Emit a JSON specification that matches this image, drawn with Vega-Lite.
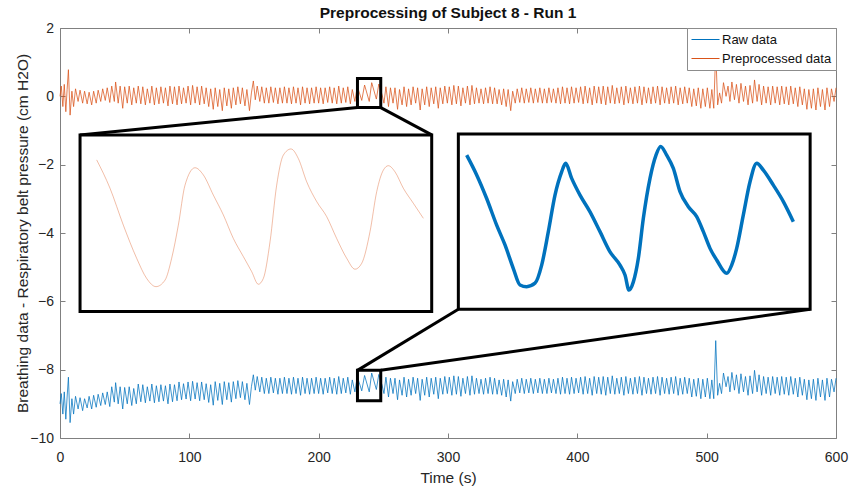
{
"$schema":"https://vega.github.io/schema/vega-lite/v6.json",
"width":776,"height":410,
"autosize":{"type":"none"},
"padding":{"left":60,"top":28,"right":15,"bottom":49},
"background":"white",
"title":{"text":"Preprocessing of Subject 8 - Run 1","fontSize":15.5,"fontWeight":"bold","font":"Liberation Sans","color":"#111111","anchor":"middle","offset":-12.5,"baseline":"alphabetic"},
"config":{"view":{"stroke":null},"font":"Liberation Sans",
"axis":{"grid":false,"labelFont":"Liberation Sans","titleFont":"Liberation Sans","domainColor":"#808080","tickColor":"#808080","labelColor":"#262626","titleColor":"#262626","tickSize":-5,"labelFlush":false,"labelOverlap":false,"labelFontSize":14,"titleFontSize":15.5,"titleFontWeight":"normal"}},
"datasets":{
"sig":[
{"t":0,"p":0,"r":-9},{"t":1,"p":0.3,"r":-8.7},{"t":2.2,"p":-0.3,"r":-9.3},{"t":3.3,"p":0.35,"r":-8.65},{"t":4.5,"p":-0.45,"r":-9.45},{"t":5.5,"p":0.2,"r":-8.8},{"t":6.5,"p":0.78,"r":-8.22},{"t":7.8,"p":-0.55,"r":-9.55},{"t":9.2,"p":0.15,"r":-8.85},{"t":10.5,"p":-0.3,"r":-9.3},
{"t":12,"p":0.22,"r":-8.78},{"t":14,"p":-0.15,"r":-9.15},{"t":15.5,"p":0.18,"r":-8.82},{"t":17.5,"p":-0.2,"r":-9.2},{"t":19,"p":0.15,"r":-8.85},{"t":21,"p":-0.22,"r":-9.12},{"t":22.5,"p":0.12,"r":-8.78},{"t":24.5,"p":-0.25,"r":-9.15},{"t":26,"p":0.15,"r":-8.75},{"t":28,"p":-0.2,"r":-9.1},
{"t":29.5,"p":0.18,"r":-8.72},{"t":31.5,"p":-0.15,"r":-9.05},{"t":33,"p":0.22,"r":-8.68},{"t":35,"p":-0.12,"r":-9.02},{"t":36.5,"p":0.25,"r":-8.65},{"t":38.5,"p":-0.18,"r":-9.08},{"t":40,"p":0.3,"r":-8.5},{"t":42,"p":-0.15,"r":-8.95},{"t":43,"p":0.42,"r":-8.38},{"t":45,"p":-0.2,"r":-9},
{"t":46.5,"p":0.3,"r":-8.5},{"t":48.5,"p":-0.35,"r":-9.15},{"t":50,"p":0.28,"r":-8.52},{"t":52,"p":-0.2,"r":-9},{"t":53.5,"p":0.3,"r":-8.5},{"t":55.5,"p":-0.25,"r":-9.05},{"t":57,"p":0.25,"r":-8.55},{"t":59,"p":-0.2,"r":-9},{"t":60.5,"p":0.3,"r":-8.42},{"t":62.5,"p":-0.22,"r":-8.94},
{"t":64,"p":0.28,"r":-8.44},{"t":66,"p":-0.25,"r":-8.97},{"t":67.5,"p":0.22,"r":-8.5},{"t":69.5,"p":-0.2,"r":-8.92},{"t":71,"p":0.3,"r":-8.42},{"t":73,"p":-0.25,"r":-8.97},{"t":74.5,"p":0.25,"r":-8.47},{"t":76.5,"p":-0.22,"r":-8.94},{"t":78,"p":0.28,"r":-8.44},{"t":80,"p":-0.2,"r":-8.92},
{"t":81.5,"p":0.25,"r":-8.47},{"t":83.5,"p":-0.28,"r":-9},{"t":85,"p":0.3,"r":-8.42},{"t":87,"p":-0.22,"r":-8.94},{"t":88.5,"p":0.28,"r":-8.44},{"t":90.5,"p":-0.25,"r":-8.91},{"t":92,"p":0.3,"r":-8.36},{"t":94,"p":-0.22,"r":-8.88},{"t":95.5,"p":0.25,"r":-8.41},{"t":97.5,"p":-0.2,"r":-8.86},
{"t":99,"p":0.3,"r":-8.36},{"t":101,"p":-0.25,"r":-8.91},{"t":102.5,"p":0.32,"r":-8.34},{"t":104.5,"p":-0.2,"r":-8.86},{"t":106,"p":0.28,"r":-8.38},{"t":108,"p":-0.25,"r":-8.91},{"t":109.5,"p":0.3,"r":-8.36},{"t":111.5,"p":-0.22,"r":-8.88},{"t":113,"p":0.25,"r":-8.41},{"t":115,"p":-0.3,"r":-8.96},
{"t":116.5,"p":0.22,"r":-8.44},{"t":118.5,"p":-0.38,"r":-9.04},{"t":120,"p":0.25,"r":-8.35},{"t":122,"p":-0.3,"r":-8.9},{"t":123.5,"p":0.2,"r":-8.4},{"t":125.5,"p":-0.42,"r":-9.02},{"t":127,"p":0.25,"r":-8.35},{"t":129,"p":-0.28,"r":-8.88},{"t":130.5,"p":0.22,"r":-8.38},{"t":132.5,"p":-0.35,"r":-8.95},
{"t":134,"p":0.25,"r":-8.35},{"t":136,"p":-0.25,"r":-8.85},{"t":137.5,"p":0.28,"r":-8.32},{"t":139.5,"p":-0.22,"r":-8.82},{"t":141,"p":0.25,"r":-8.35},{"t":143,"p":-0.28,"r":-8.88},{"t":144.5,"p":0.2,"r":-8.4},{"t":146.5,"p":-0.42,"r":-9.02},{"t":148,"p":0.1,"r":-8.5},{"t":149.5,"p":0.45,"r":-8.15},
{"t":151,"p":-0.1,"r":-8.6},{"t":152.5,"p":0.3,"r":-8.2},{"t":154.5,"p":-0.15,"r":-8.65},{"t":156,"p":0.28,"r":-8.22},{"t":158,"p":-0.2,"r":-8.7},{"t":159.5,"p":0.25,"r":-8.25},{"t":161.5,"p":-0.2,"r":-8.7},{"t":163,"p":0.28,"r":-8.22},{"t":165,"p":-0.18,"r":-8.68},{"t":166.5,"p":0.25,"r":-8.25},
{"t":168.5,"p":-0.22,"r":-8.72},{"t":170,"p":0.25,"r":-8.25},{"t":172,"p":-0.2,"r":-8.7},{"t":173.5,"p":0.28,"r":-8.22},{"t":175.5,"p":-0.2,"r":-8.7},{"t":177,"p":0.25,"r":-8.25},{"t":179,"p":-0.22,"r":-8.72},{"t":180.5,"p":0.28,"r":-8.22},{"t":182.5,"p":-0.2,"r":-8.7},{"t":184,"p":0.25,"r":-8.25},
{"t":186,"p":-0.25,"r":-8.75},{"t":187.5,"p":0.28,"r":-8.22},{"t":189.5,"p":-0.2,"r":-8.7},{"t":191,"p":0.25,"r":-8.25},{"t":193,"p":-0.22,"r":-8.72},{"t":194.5,"p":0.25,"r":-8.25},{"t":196.5,"p":-0.2,"r":-8.7},{"t":198,"p":0.28,"r":-8.22},{"t":200,"p":-0.2,"r":-8.7},{"t":201.5,"p":0.25,"r":-8.25},
{"t":203.5,"p":-0.22,"r":-8.72},{"t":205,"p":0.25,"r":-8.25},{"t":207,"p":-0.18,"r":-8.68},{"t":208.5,"p":0.28,"r":-8.22},{"t":210.5,"p":-0.2,"r":-8.7},{"t":212,"p":0.25,"r":-8.25},{"t":214,"p":-0.22,"r":-8.72},{"t":215.5,"p":0.3,"r":-8.2},{"t":217.5,"p":-0.2,"r":-8.7},{"t":219,"p":0.25,"r":-8.25},
{"t":221,"p":-0.18,"r":-8.68},{"t":222.5,"p":0.28,"r":-8.22},{"t":224.5,"p":-0.22,"r":-8.72},{"t":226,"p":0.2,"r":-8.3},{"t":228,"p":-0.15,"r":-8.65},{"t":229.9,"p":0.3,"r":-8.2},{"t":233.3,"p":-0.12,"r":-8.62},{"t":235.5,"p":0.33,"r":-8.17},{"t":239.1,"p":-0.15,"r":-8.65},{"t":241,"p":0.4,"r":-8.1},
{"t":244.6,"p":-0.08,"r":-8.58},{"t":246.5,"p":0.36,"r":-8.14},{"t":249,"p":0.05,"r":-8.45},{"t":250.5,"p":-0.2,"r":-8.7},{"t":252,"p":0.28,"r":-8.22},{"t":254,"p":-0.3,"r":-8.8},{"t":255.5,"p":0.25,"r":-8.25},{"t":257.5,"p":-0.2,"r":-8.7},{"t":259,"p":0.25,"r":-8.25},{"t":261,"p":-0.38,"r":-8.88},
{"t":262.5,"p":0.2,"r":-8.3},{"t":264.5,"p":-0.25,"r":-8.75},{"t":266,"p":0.28,"r":-8.22},{"t":268,"p":-0.3,"r":-8.8},{"t":269.5,"p":0.22,"r":-8.28},{"t":271.5,"p":-0.25,"r":-8.75},{"t":273,"p":0.28,"r":-8.22},{"t":275,"p":-0.2,"r":-8.7},{"t":276.5,"p":0.25,"r":-8.25},{"t":278.5,"p":-0.4,"r":-8.9},
{"t":280,"p":0.22,"r":-8.28},{"t":282,"p":-0.25,"r":-8.75},{"t":283.5,"p":0.28,"r":-8.22},{"t":285.5,"p":-0.3,"r":-8.8},{"t":287,"p":0.25,"r":-8.25},{"t":289,"p":-0.22,"r":-8.72},{"t":290.5,"p":0.28,"r":-8.22},{"t":292.5,"p":-0.35,"r":-8.85},{"t":294,"p":0.25,"r":-8.25},{"t":296,"p":-0.22,"r":-8.72},
{"t":297.5,"p":0.3,"r":-8.2},{"t":299.5,"p":-0.2,"r":-8.7},{"t":301,"p":0.28,"r":-8.22},{"t":303,"p":-0.25,"r":-8.75},{"t":304.5,"p":0.32,"r":-8.18},{"t":306.5,"p":-0.22,"r":-8.72},{"t":308,"p":0.3,"r":-8.2},{"t":310,"p":-0.28,"r":-8.78},{"t":311.5,"p":0.25,"r":-8.25},{"t":313.5,"p":-0.2,"r":-8.7},
{"t":315,"p":0.3,"r":-8.2},{"t":317,"p":-0.25,"r":-8.75},{"t":318.5,"p":0.32,"r":-8.18},{"t":320.5,"p":-0.22,"r":-8.72},{"t":322,"p":0.25,"r":-8.25},{"t":324,"p":-0.2,"r":-8.7},{"t":325.5,"p":0.22,"r":-8.28},{"t":327.5,"p":-0.22,"r":-8.72},{"t":329,"p":0.25,"r":-8.25},{"t":331,"p":-0.2,"r":-8.7},
{"t":332.5,"p":0.28,"r":-8.22},{"t":334.5,"p":-0.22,"r":-8.72},{"t":336,"p":0.25,"r":-8.25},{"t":338,"p":-0.22,"r":-8.72},{"t":339.5,"p":0.2,"r":-8.3},{"t":341.5,"p":-0.25,"r":-8.75},{"t":343,"p":0.22,"r":-8.28},{"t":345,"p":-0.3,"r":-8.8},{"t":346.5,"p":0.2,"r":-8.3},{"t":348.5,"p":-0.42,"r":-8.92},
{"t":350,"p":0.15,"r":-8.35},{"t":352,"p":-0.2,"r":-8.7},{"t":353.5,"p":0.22,"r":-8.28},{"t":355.5,"p":-0.18,"r":-8.68},{"t":357,"p":0.25,"r":-8.25},{"t":359,"p":-0.2,"r":-8.7},{"t":360.5,"p":0.22,"r":-8.28},{"t":362.5,"p":-0.18,"r":-8.68},{"t":364,"p":0.25,"r":-8.25},{"t":366,"p":-0.2,"r":-8.7},
{"t":367.5,"p":0.22,"r":-8.28},{"t":369.5,"p":-0.18,"r":-8.68},{"t":371,"p":0.25,"r":-8.25},{"t":373,"p":-0.2,"r":-8.7},{"t":374.5,"p":0.22,"r":-8.28},{"t":376.5,"p":-0.2,"r":-8.7},{"t":378,"p":0.25,"r":-8.25},{"t":380,"p":-0.18,"r":-8.68},{"t":381.5,"p":0.22,"r":-8.28},{"t":383.5,"p":-0.2,"r":-8.7},
{"t":385,"p":0.25,"r":-8.25},{"t":387,"p":-0.22,"r":-8.72},{"t":388.5,"p":0.28,"r":-8.22},{"t":390.5,"p":-0.2,"r":-8.7},{"t":392,"p":0.25,"r":-8.25},{"t":394,"p":-0.22,"r":-8.72},{"t":395.5,"p":0.28,"r":-8.22},{"t":397.5,"p":-0.2,"r":-8.7},{"t":399,"p":0.25,"r":-8.25},{"t":401,"p":-0.18,"r":-8.68},
{"t":402.5,"p":0.28,"r":-8.22},{"t":404.5,"p":-0.22,"r":-8.72},{"t":406,"p":0.3,"r":-8.2},{"t":408,"p":-0.2,"r":-8.7},{"t":409.5,"p":0.25,"r":-8.25},{"t":411.5,"p":-0.25,"r":-8.75},{"t":413,"p":0.3,"r":-8.2},{"t":415,"p":-0.2,"r":-8.7},{"t":416.5,"p":0.28,"r":-8.22},{"t":418.5,"p":-0.22,"r":-8.72},
{"t":420,"p":0.3,"r":-8.2},{"t":422,"p":-0.25,"r":-8.75},{"t":423.5,"p":0.28,"r":-8.22},{"t":425.5,"p":-0.2,"r":-8.7},{"t":427,"p":0.32,"r":-8.18},{"t":429,"p":-0.22,"r":-8.72},{"t":430.5,"p":0.25,"r":-8.25},{"t":432.5,"p":-0.2,"r":-8.7},{"t":434,"p":0.28,"r":-8.22},{"t":436,"p":-0.25,"r":-8.75},
{"t":437.5,"p":0.3,"r":-8.2},{"t":439.5,"p":-0.2,"r":-8.7},{"t":441,"p":0.25,"r":-8.25},{"t":443,"p":-0.22,"r":-8.72},{"t":444.5,"p":0.28,"r":-8.22},{"t":446.5,"p":-0.2,"r":-8.7},{"t":448,"p":0.3,"r":-8.2},{"t":450,"p":-0.25,"r":-8.75},{"t":451.5,"p":0.28,"r":-8.22},{"t":453.5,"p":-0.2,"r":-8.7},
{"t":455,"p":0.25,"r":-8.25},{"t":457,"p":-0.22,"r":-8.72},{"t":458.5,"p":0.28,"r":-8.22},{"t":460.5,"p":-0.2,"r":-8.7},{"t":462,"p":0.3,"r":-8.2},{"t":464,"p":-0.25,"r":-8.75},{"t":465.5,"p":0.28,"r":-8.22},{"t":467.5,"p":-0.2,"r":-8.7},{"t":469,"p":0.25,"r":-8.25},{"t":471,"p":-0.22,"r":-8.72},
{"t":472.5,"p":0.28,"r":-8.22},{"t":474.5,"p":-0.2,"r":-8.7},{"t":476,"p":0.3,"r":-8.2},{"t":478,"p":-0.25,"r":-8.75},{"t":479.5,"p":0.25,"r":-8.25},{"t":481.5,"p":-0.22,"r":-8.72},{"t":483,"p":0.28,"r":-8.22},{"t":485,"p":-0.2,"r":-8.7},{"t":486.5,"p":0.25,"r":-8.25},{"t":488.5,"p":-0.3,"r":-8.8},
{"t":490,"p":0.22,"r":-8.28},{"t":492,"p":-0.28,"r":-8.78},{"t":493.5,"p":0.25,"r":-8.25},{"t":495.5,"p":-0.35,"r":-8.85},{"t":497,"p":0.22,"r":-8.28},{"t":499,"p":-0.3,"r":-8.8},{"t":500.5,"p":0.25,"r":-8.25},{"t":502.5,"p":-0.35,"r":-8.85},{"t":504,"p":0.2,"r":-8.3},{"t":505.5,"p":-0.35,"r":-8.85},
{"t":507,"p":1.35,"r":-7.15},{"t":508.5,"p":-0.25,"r":-8.75},{"t":510,"p":0.1,"r":-8.4},{"t":511.5,"p":-0.2,"r":-8.7},{"t":513,"p":0.4,"r":-8.1},{"t":515,"p":0,"r":-8.5},{"t":516.5,"p":0.3,"r":-8.2},{"t":518,"p":-0.15,"r":-8.65},{"t":519.5,"p":0.42,"r":-8.08},{"t":521.5,"p":-0.1,"r":-8.6},
{"t":523,"p":0.35,"r":-8.15},{"t":525,"p":-0.2,"r":-8.7},{"t":526.5,"p":0.38,"r":-8.12},{"t":528.5,"p":-0.15,"r":-8.65},{"t":530,"p":0.3,"r":-8.2},{"t":532,"p":-0.25,"r":-8.75},{"t":533.5,"p":0.32,"r":-8.18},{"t":535.5,"p":-0.2,"r":-8.7},{"t":537,"p":0.48,"r":-8.02},{"t":539,"p":-0.15,"r":-8.65},
{"t":540.5,"p":0.35,"r":-8.15},{"t":542.5,"p":-0.25,"r":-8.75},{"t":544,"p":0.3,"r":-8.2},{"t":546,"p":-0.2,"r":-8.7},{"t":547.5,"p":0.28,"r":-8.22},{"t":549.5,"p":-0.25,"r":-8.75},{"t":551,"p":0.3,"r":-8.2},{"t":553,"p":-0.2,"r":-8.7},{"t":554.5,"p":0.28,"r":-8.22},{"t":556.5,"p":-0.25,"r":-8.75},
{"t":558,"p":0.3,"r":-8.2},{"t":560,"p":-0.22,"r":-8.72},{"t":561.5,"p":0.28,"r":-8.22},{"t":563.5,"p":-0.25,"r":-8.75},{"t":565,"p":0.3,"r":-8.2},{"t":567,"p":-0.22,"r":-8.72},{"t":568.5,"p":0.25,"r":-8.25},{"t":570.5,"p":-0.3,"r":-8.8},{"t":572,"p":0.28,"r":-8.22},{"t":574,"p":-0.25,"r":-8.75},
{"t":575.5,"p":0.22,"r":-8.28},{"t":577.5,"p":-0.38,"r":-8.88},{"t":579,"p":0.2,"r":-8.3},{"t":581,"p":-0.35,"r":-8.85},{"t":582.5,"p":0.22,"r":-8.28},{"t":584.5,"p":-0.4,"r":-8.9},{"t":586,"p":0.25,"r":-8.25},{"t":588,"p":-0.3,"r":-8.8},{"t":589.5,"p":0.2,"r":-8.3},{"t":591.5,"p":-0.4,"r":-8.9},
{"t":593,"p":0.25,"r":-8.25},{"t":595,"p":-0.3,"r":-8.8},{"t":596.5,"p":0.22,"r":-8.28},{"t":598.5,"p":-0.15,"r":-8.65},{"t":600,"p":0.25,"r":-8.25}
],
"insetP":[
{"x":28.35,"y":-1.86},{"x":38.66,"y":-2.69},{"x":48.97,"y":-3.77},{"x":59.28,"y":-4.74},{"x":67.01,"y":-5.33},{"x":74.23,"y":-5.57},{"x":81.19,"y":-5.38},{"x":86.34,"y":-4.74},{"x":91.5,"y":-3.77},{"x":96.65,"y":-2.6},
{"x":104.39,"y":-2.09},{"x":110.83,"y":-2.3},{"x":118.56,"y":-2.89},{"x":126.29,"y":-3.47},{"x":134.02,"y":-4.16},{"x":141.76,"y":-4.69},{"x":148.2,"y":-5.13},{"x":153.36,"y":-5.5},{"x":157.22,"y":-5.33},{"x":162.38,"y":-4.26},
{"x":167.53,"y":-2.6},{"x":172.69,"y":-1.72},{"x":178.62,"y":-1.54},{"x":184.28,"y":-1.82},{"x":190.73,"y":-2.5},{"x":198.46,"y":-3.08},{"x":206.19,"y":-3.52},{"x":213.92,"y":-4.16},{"x":221.66,"y":-4.74},{"x":228.1,"y":-5.06},
{"x":233.25,"y":-4.89},{"x":239.7,"y":-3.96},{"x":244.88,"y":-2.79},{"x":250,"y":-2.16},{"x":253.87,"y":-2.03},{"x":259.03,"y":-2.21},{"x":265.47,"y":-2.69},{"x":273.2,"y":-3.13},{"x":280.94,"y":-3.57}
],
"insetR":[
{"x":314.44,"y":-1.72},{"x":322.17,"y":-2.3},{"x":329.9,"y":-2.99},{"x":337.63,"y":-3.77},{"x":344.08,"y":-4.35},{"x":350.52,"y":-5.04},{"x":355.68,"y":-5.52},{"x":360.83,"y":-5.57},{"x":367.27,"y":-5.47},{"x":372.43,"y":-4.94},
{"x":377.58,"y":-3.96},{"x":382.73,"y":-2.89},{"x":387.89,"y":-2.21},{"x":390.98,"y":-1.96},{"x":395.63,"y":-2.4},{"x":402.07,"y":-2.89},{"x":409.8,"y":-3.38},{"x":417.53,"y":-3.96},{"x":425.27,"y":-4.55},{"x":433,"y":-4.94},
{"x":436.86,"y":-5.23},{"x":439.95,"y":-5.67},{"x":443.31,"y":-5.43},{"x":447.18,"y":-4.74},{"x":451.04,"y":-3.57},{"x":456.19,"y":-2.4},{"x":460.83,"y":-1.72},{"x":464.44,"y":-1.47},{"x":469.08,"y":-1.72},{"x":474.24,"y":-2.11},
{"x":479.39,"y":-2.79},{"x":485.84,"y":-3.23},{"x":492.28,"y":-3.52},{"x":497.43,"y":-3.96},{"x":502.59,"y":-4.45},{"x":507.74,"y":-4.79},{"x":515.47,"y":-5.18},{"x":519.34,"y":-4.94},{"x":523.21,"y":-4.45},{"x":528.36,"y":-3.47},
{"x":533.52,"y":-2.5},{"x":538.67,"y":-1.96},{"x":543.83,"y":-2.16},{"x":551.56,"y":-2.6},{"x":559.29,"y":-3.08},{"x":567.03,"y":-3.67}
],
"small":[{"x":230,"x2":248,"y":0.52,"y2":-0.33},{"x":230,"x2":248,"y":-8.02,"y2":-8.91}],
"inset":[{"x":15.5,"x2":287.4,"y":-1.13,"y2":-6.3},{"x":308,"x2":580,"y":-1.1,"y2":-6.23}],
"links":[{"x":230,"y":-0.33,"x2":15.5,"y2":-1.13},{"x":248,"y":-0.33,"x2":287.4,"y2":-1.13},{"x":230,"y":-8.02,"x2":308,"y2":-6.23},{"x":248,"y":-8.02,"x2":580,"y2":-6.23}]
},
"layer":[
{"data":{"name":"sig"},"transform":[{"fold":["r","p"],"as":["s","v"]}],
"mark":{"type":"line","strokeWidth":0.75},
"encoding":{
"x":{"field":"t","type":"quantitative","scale":{"domain":[0,600],"nice":false,"zero":false},
"axis":{"orient":"bottom","values":[0,100,200,300,400,500,600],"labelPadding":28,"labelBaseline":"alphabetic","title":"Time (s)","titleY":44.8,"titleBaseline":"alphabetic"}},
"y":{"field":"v","type":"quantitative","scale":{"domain":[-10,2],"nice":false,"zero":false},
"axis":{"orient":"left","values":[-10,-8,-6,-4,-2,0,2],"labelPadding":11.5,"title":"Breathing data - Respiratory belt pressure (cm H2O)","titleX":-38,"titleBaseline":"middle"}},
"color":{"field":"s","type":"nominal","scale":{"domain":["r","p"],"range":["#0072BD","#D95319"]},
"legend":{"title":null,"orient":"top-right","offset":0,"fillColor":"white","strokeColor":"#8c8c8c","padding":4,"symbolType":"M-1,0H3","symbolSize":196,"symbolStrokeWidth":1,"labelFontSize":13,"labelFont":"Liberation Sans","labelColor":"#111111","labelOffset":16,"rowPadding":4,"labelExpr":"datum.value == 'r' ? 'Raw data' : 'Preprocessed data'"}}
}},
{"data":{"name":"small"},"mark":{"type":"rect","filled":false,"stroke":"black","strokeWidth":3},
"encoding":{"x":{"field":"x","type":"quantitative","axis":null,"scale":{"domain":[0,600],"nice":false,"zero":false}},"x2":{"field":"x2"},
"y":{"field":"y","type":"quantitative","axis":null,"scale":{"domain":[-10,2],"nice":false,"zero":false}},"y2":{"field":"y2"}}},
{"data":{"name":"links"},"mark":{"type":"rule","color":"black","strokeWidth":3},
"encoding":{"x":{"field":"x","type":"quantitative","axis":null,"scale":{"domain":[0,600],"nice":false,"zero":false}},"x2":{"field":"x2"},
"y":{"field":"y","type":"quantitative","axis":null,"scale":{"domain":[-10,2],"nice":false,"zero":false}},"y2":{"field":"y2"}}},
{"data":{"name":"inset"},"mark":{"type":"rect","fill":"white","stroke":"black","strokeWidth":3},
"encoding":{"x":{"field":"x","type":"quantitative","axis":null,"scale":{"domain":[0,600],"nice":false,"zero":false}},"x2":{"field":"x2"},
"y":{"field":"y","type":"quantitative","axis":null,"scale":{"domain":[-10,2],"nice":false,"zero":false}},"y2":{"field":"y2"}}},
{"data":{"name":"insetP"},"mark":{"type":"line","color":"#D95319","opacity":0.38,"strokeWidth":1,"interpolate":"monotone"},
"encoding":{"x":{"field":"x","type":"quantitative","axis":null,"scale":{"domain":[0,600],"nice":false,"zero":false}},
"y":{"field":"y","type":"quantitative","axis":null,"scale":{"domain":[-10,2],"nice":false,"zero":false}}}},
{"data":{"name":"insetR"},"mark":{"type":"line","color":"#0072BD","strokeWidth":3.5,"interpolate":"monotone"},
"encoding":{"x":{"field":"x","type":"quantitative","axis":null,"scale":{"domain":[0,600],"nice":false,"zero":false}},
"y":{"field":"y","type":"quantitative","axis":null,"scale":{"domain":[-10,2],"nice":false,"zero":false}}}},
{"data":{"name":"small"},"mark":{"type":"point","opacity":0},
"encoding":{"x":{"field":"x","type":"quantitative","scale":{"domain":[0,600],"nice":false,"zero":false},"axis":{"orient":"top","values":[0,100,200,300,400,500,600],"labels":false,"title":null}},
"y":{"field":"y","type":"quantitative","scale":{"domain":[-10,2],"nice":false,"zero":false},"axis":{"orient":"right","values":[-10,-8,-6,-4,-2,0,2],"labels":false,"title":null}}}}
],
"resolve":{"axis":{"x":"independent","y":"independent"}}
}
